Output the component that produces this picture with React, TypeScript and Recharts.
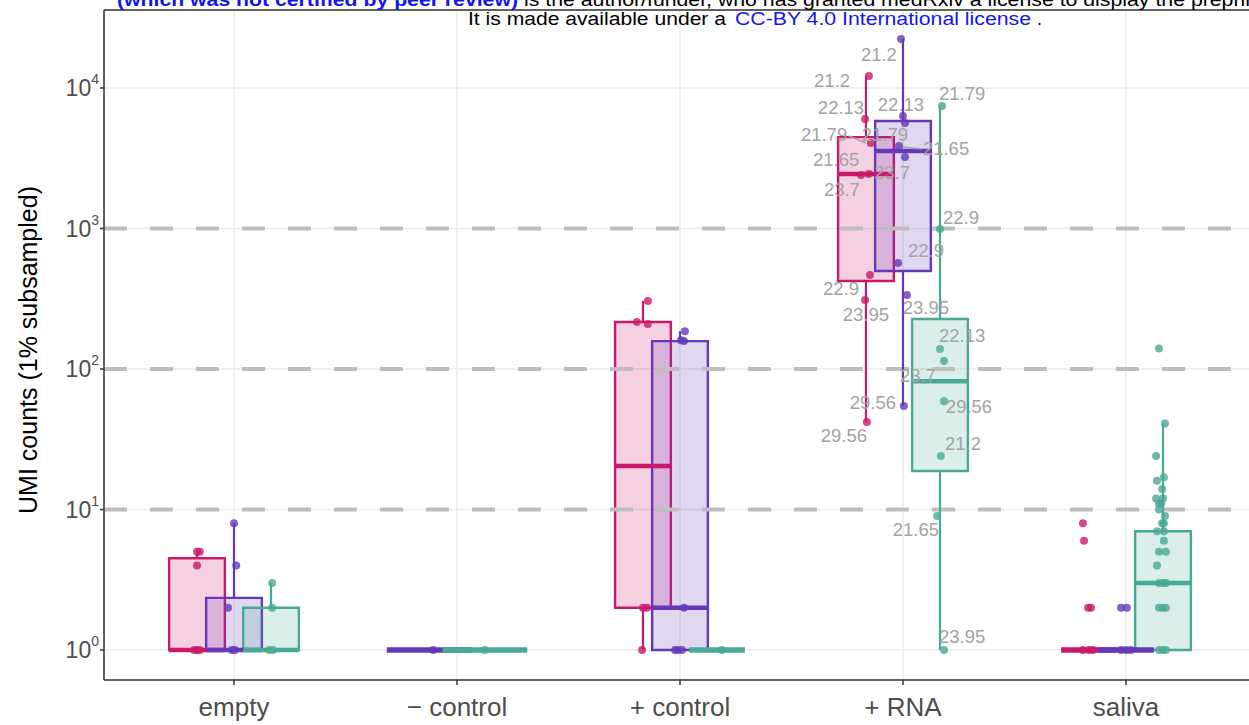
import React from 'react';
import {
  ComposedChart,
  XAxis,
  YAxis,
  CartesianGrid,
  Scatter,
  ReferenceArea,
  ReferenceLine,
} from 'recharts';

// palette (ggplot-ish)
const colors = {
  pink: '#C9196A',
  purple: '#6438B8',
  teal: '#48A995',
  label: '#A3A3A3',
  grid: '#EBEBEB',
  dash: '#BEBEBE',
  axis: '#333333',
  tickText: '#4D4D4D',
};

const categories = ['empty', '\u2212 control', '+ control', '+ RNA', 'saliva'];
const yTicks = [1, 10, 100, 1000, 10000];
const dashedLevels = [10, 100, 1000];
const xDomain: [number, number] = [0.417, 5.601];
const yDomain: [number, number] = [0.612, 35900];

// box stats: category (1-based), q1, median, q3, whisker low, whisker high
type Box = { cat: number; q1: number; med: number; q3: number; lo: number; hi: number };

const pinkBoxes: Box[] = [
  { cat: 1, q1: 1, med: 1, q3: 4.5, lo: 1, hi: 5 },
  { cat: 3, q1: 2, med: 20.4, q3: 216, lo: 1, hi: 305 },
  { cat: 4, q1: 423, med: 2440, q3: 4470, lo: 42, hi: 12170 },
  { cat: 5, q1: 1, med: 1, q3: 1, lo: 1, hi: 1 },
];
const purpleBoxes: Box[] = [
  { cat: 1, q1: 1, med: 1, q3: 2.35, lo: 1, hi: 8 },
  { cat: 2, q1: 1, med: 1, q3: 1, lo: 1, hi: 1 },
  { cat: 3, q1: 1, med: 2, q3: 158, lo: 1, hi: 186 },
  { cat: 4, q1: 499, med: 3560, q3: 5820, lo: 54.6, hi: 22300 },
  { cat: 5, q1: 1, med: 1, q3: 1, lo: 1, hi: 1 },
];
const tealBoxes: Box[] = [
  { cat: 1, q1: 1, med: 1, q3: 2, lo: 1, hi: 3 },
  { cat: 2, q1: 1, med: 1, q3: 1, lo: 1, hi: 1 },
  { cat: 3, q1: 1, med: 1, q3: 1, lo: 1, hi: 1 },
  { cat: 4, q1: 18.8, med: 82, q3: 227, lo: 1, hi: 7450 },
  { cat: 5, q1: 1, med: 3, q3: 7, lo: 1, hi: 41 },
];

// points: [category, value, horizontal jitter]
const pinkPoints: [number, number, number][] = [
  [1, 5, 0], [1, 5, 0.013], [1, 4, 0], [1, 1, -0.013], [1, 1, 0.013], [1, 1, 0],
  [3, 305, 0.022], [3, 216, -0.027], [3, 209, 0.022], [3, 2, 0], [3, 2, 0.018], [3, 1, -0.004],
  [4, 12170, 0.013], [4, 6010, -0.004], [4, 4060, 0.022], [4, 2443, 0.013], [4, 2404, -0.022],
  [4, 467, 0.018], [4, 310, -0.004], [4, 42, 0.004],
  [5, 8, -0.027], [5, 6, -0.022], [5, 2, -0.004], [5, 2, 0.009], [5, 1, -0.027], [5, 1, 0], [5, 1, 0.018],
];
const purplePoints: [number, number, number][] = [
  [1, 8, 0], [1, 4, 0.01], [1, 2, -0.027], [1, 1, -0.009], [1, 1, 0.004],
  [2, 1, 0.018],
  [3, 186, 0.022], [3, 160, 0.004], [3, 158, 0.018], [3, 2, 0.018], [3, 1, -0.022], [3, 1, -0.009], [3, 1, 0.009],
  [4, 22300, -0.009], [4, 6320, 0], [4, 5640, 0.009], [4, 3865, -0.018], [4, 3230, 0.009],
  [4, 568, -0.022], [4, 336, 0.018], [4, 54.6, 0.004],
  [5, 2, -0.022], [5, 2, 0.004], [5, 1, -0.022], [5, 1, 0], [5, 1, 0.022],
];
const tealPoints: [number, number, number][] = [
  [1, 3, 0.005], [1, 2, 0.005], [1, 1, -0.009], [1, 1, 0.009],
  [2, 1, 0],
  [3, 1, 0.022],
  [4, 7450, 0.009], [4, 992, 0], [4, 139, 0], [4, 114, 0.018], [4, 59, 0.018], [4, 24, 0.004],
  [4, 9, -0.013], [4, 1, 0.018],
  [5, 140, -0.018], [5, 41, 0.009], [5, 24, -0.031], [5, 16, -0.027], [5, 17, 0.004], [5, 14, -0.004],
  [5, 12, -0.031], [5, 12, 0], [5, 11, -0.018], [5, 11, -0.009], [5, 10, -0.018], [5, 9, 0.009],
  [5, 8, -0.004], [5, 8, 0.004], [5, 7, -0.027], [5, 7, 0.004], [5, 6, 0.004], [5, 5, -0.018],
  [5, 5, 0.013], [5, 4, -0.027], [5, 3, -0.018], [5, 3, 0], [5, 3, 0.013], [5, 2, -0.018],
  [5, 2, 0], [5, 2, 0.013], [5, 1, -0.018], [5, 1, 0], [5, 1, 0.013],
];

// repelled text labels in the "+ RNA" group: [text, x, y]
const rnaLabels: [string, number, number][] = [
  ['21.2', 3.682, 11220], ['22.13', 3.722, 7320], ['21.79', 3.646, 4630], ['21.65', 3.7, 3073],
  ['23.7', 3.726, 1880], ['22.9', 3.722, 377], ['23.95', 3.834, 246], ['29.56', 3.735, 33.4],
  ['21.2', 3.892, 17180], ['22.13', 3.991, 7690], ['21.79', 3.919, 4630], ['21.65', 4.193, 3680],
  ['23.7', 3.951, 2484], ['22.9', 4.103, 703], ['23.95', 4.103, 272], ['29.56', 3.865, 58.2],
  ['21.79', 4.265, 9210], ['22.9', 4.26, 1188], ['22.13', 4.265, 172], ['23.7', 4.067, 90.6],
  ['29.56', 4.296, 53.7], ['21.2', 4.269, 29.7], ['21.65', 4.058, 7.15], ['23.95', 4.265, 1.24],
];
// label leader segments: [x1, y1, x2, y2]
const leaders: [number, number, number, number][] = [
  [3.758, 4550, 3.834, 4060],
  [3.996, 3800, 4.085, 3680],
];

const series = [
  { key: 'pink', color: colors.pink, boxes: pinkBoxes, points: pinkPoints },
  { key: 'purple', color: colors.purple, boxes: purpleBoxes, points: purplePoints },
  { key: 'teal', color: colors.teal, boxes: tealBoxes, points: tealPoints },
];

// position_dodge: where a series sits inside its category
function dodge(cat: number, idx: number) {
  const present = series
    .map((s, i) => (s.boxes.some((b) => b.cat === cat) ? i : -1))
    .filter((i) => i >= 0);
  const k = present.indexOf(idx);
  if (present.length === 3) return { off: (k - 1) * 0.166, w: 0.25 };
  return { off: (k - 0.5) * 0.25, w: 0.38 };
}

const fontFamily = '"Liberation Sans", Arial, Helvetica, sans-serif';

function LogTick(props: any) {
  const { x, y, payload } = props;
  const e = Math.round(Math.log10(payload.value));
  return (
    <text x={x} y={y + 8} textAnchor="end" fill={colors.tickText} fontSize={23} fontFamily={fontFamily}>
      <tspan>10</tspan>
      <tspan dy={-12} fontSize={14}>{e}</tspan>
    </text>
  );
}

function Dot(color: string) {
  return (p: any) => <circle cx={p.cx} cy={p.cy} r={4} fill={color} fillOpacity={0.8} />;
}

function LabelText(p: any) {
  return (
    <text
      x={p.cx}
      y={p.cy}
      textAnchor="middle"
      dominantBaseline="central"
      fill={colors.label}
      fontSize={18.5}
      fontFamily={fontFamily}
    >
      {p.payload.text}
    </text>
  );
}

export default function App() {
  const labelData = rnaLabels.map(([text, x, y]) => ({ text, x, y }));
  return (
    <div
      style={{
        position: 'absolute',
        left: 0,
        top: 0,
        width: 1249,
        height: 725,
        overflow: 'hidden',
        background: '#fff',
      }}
    >
      <ComposedChart width={1280} height={725} margin={{ top: 10, right: 20, bottom: 0, left: 0 }}>
        <CartesianGrid stroke={colors.grid} strokeWidth={1.5} />
        <XAxis
          type="number"
          dataKey="x"
          domain={xDomain}
          ticks={[1, 2, 3, 4, 5]}
          allowDataOverflow
          height={45}
          tickFormatter={(v) => categories[v - 1]}
          tick={{ fontSize: 26, fill: colors.tickText, fontFamily }}
          tickSize={5}
          tickMargin={13}
          tickLine={{ stroke: colors.axis, strokeWidth: 1.5 }}
          axisLine={{ stroke: colors.axis, strokeWidth: 1.5 }}
        />
        <YAxis
          type="number"
          dataKey="y"
          scale="log"
          domain={yDomain}
          ticks={yTicks}
          allowDataOverflow
          width={104}
          tick={<LogTick />}
          tickSize={4}
          tickMargin={1}
          tickLine={{ stroke: colors.axis, strokeWidth: 1.5 }}
          axisLine={{ stroke: colors.axis, strokeWidth: 1.5 }}
        />
        <ReferenceLine y={yDomain[1]} stroke={colors.axis} strokeWidth={1.5} ifOverflow="visible" />
        {dashedLevels.map((v) => (
          <ReferenceLine key={`d${v}`} y={v} stroke={colors.dash} strokeWidth={4} strokeDasharray="23 23" />
        ))}
        {series.map((s, i) =>
          s.boxes.map((b) => {
            const { off, w } = dodge(b.cat, i);
            const cx = b.cat + off;
            const x1 = cx - w / 2;
            const x2 = cx + w / 2;
            return (
              <React.Fragment key={`${s.key}${b.cat}`}>
                {b.hi > b.q3 && (
                  <ReferenceLine
                    segment={[{ x: cx, y: b.q3 }, { x: cx, y: b.hi }]}
                    stroke={s.color}
                    strokeWidth={2.2}
                  />
                )}
                {b.lo < b.q1 && (
                  <ReferenceLine
                    segment={[{ x: cx, y: b.lo }, { x: cx, y: b.q1 }]}
                    stroke={s.color}
                    strokeWidth={2.2}
                  />
                )}
                {b.q3 > b.q1 && (
                  <ReferenceArea
                    x1={x1}
                    x2={x2}
                    y1={b.q1}
                    y2={b.q3}
                    fill={s.color}
                    fillOpacity={0.2}
                    stroke={s.color}
                    strokeWidth={2.4}
                  />
                )}
                <ReferenceLine
                  segment={[{ x: x1, y: b.med }, { x: x2, y: b.med }]}
                  stroke={s.color}
                  strokeWidth={b.q3 > b.q1 ? 4.5 : 5.5}
                />
              </React.Fragment>
            );
          })
        )}
        {leaders.map(([x1, y1, x2, y2], i) => (
          <ReferenceLine
            key={`l${i}`}
            segment={[{ x: x1, y: y1 }, { x: x2, y: y2 }]}
            stroke={colors.label}
            strokeWidth={1.5}
          />
        ))}
        {series.map((s, i) => (
          <Scatter
            key={s.key}
            name={s.key}
            data={s.points.map(([cat, v, j]) => ({ x: cat + dodge(cat, i).off + j, y: v }))}
            shape={Dot(s.color)}
            isAnimationActive={false}
          />
        ))}
        <Scatter name="labels" data={labelData} shape={LabelText} isAnimationActive={false} />
      </ComposedChart>
      <svg
        width={1249}
        height={725}
        style={{ position: 'absolute', left: 0, top: 0, pointerEvents: 'none' }}
        fontFamily={fontFamily}
      >
        <text x={117} y={6} fontSize={18} fontWeight="bold" fill="#1414F0" textLength={401} lengthAdjust="spacingAndGlyphs">
          (which was not certified by peer review)
        </text>
        <text x={524} y={6} fontSize={18} fill="#000" textLength={739} lengthAdjust="spacingAndGlyphs">
          is the author/funder, who has granted medRxiv a license to display the preprint
        </text>
        <text x={468} y={25} fontSize={18} fill="#000" textLength={258} lengthAdjust="spacingAndGlyphs">
          It is made available under a
        </text>
        <text x={735} y={25} fontSize={18} fill="#1414F0" textLength={296} lengthAdjust="spacingAndGlyphs">
          CC-BY 4.0 International license
        </text>
        <text x={1037} y={25} fontSize={18} fill="#000">
          .
        </text>
        <text
          x={28}
          y={350}
          transform="rotate(-90 28 350)"
          textAnchor="middle"
          dominantBaseline="central"
          fontSize={25}
          fill="#000"
        >
          UMI counts (1% subsampled)
        </text>
      </svg>
    </div>
  );
}
